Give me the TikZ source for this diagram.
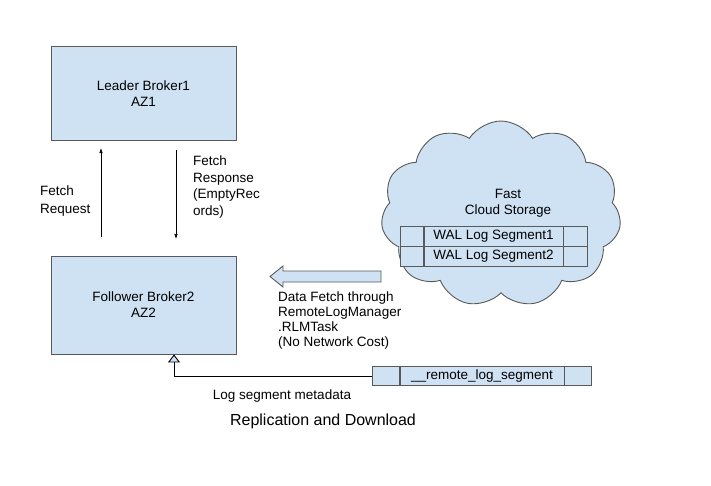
\documentclass[tikz,border=0pt]{standalone}
\usepackage{fontspec}
\setmainfont{Liberation Sans}
\usetikzlibrary{arrows.meta,shapes.symbols}
\definecolor{boxfill}{HTML}{CFE2F3}
\definecolor{boxdraw}{HTML}{595959}
\tikzset{
  box/.style={draw=boxdraw, fill=boxfill, line width=0.9pt, minimum width=185pt, minimum height=94pt, inner sep=0pt, align=center, font=\fontsize{13.5}{16}\selectfont},
  cell/.style={draw=boxdraw, fill=boxfill, line width=0.9pt, inner sep=0pt, align=center, font=\fontsize{13.5}{16}\selectfont},
  lbl/.style={inner sep=0pt, align=left, font=\fontsize{13.5}{16}\selectfont},
  thinarrow/.style={draw=black, line width=0.6pt, -{Latex[length=5pt,width=3.5pt]}},
}
\begin{document}
\begin{tikzpicture}[x=1pt,y=-1pt]
\useasboundingbox (0,0) rectangle (711,485);
% brokers
\node[box] (leader) at (143.5,93.5) {Leader Broker1\\AZ1};
\node[box, minimum height=98pt] (follower) at (143.5,305) {Follower Broker2\\AZ2};
% fetch arrows
\coordinate (reqS) at (101,237);
\coordinate (reqE) at (101,148);
\coordinate (resS) at (176,150);
\coordinate (resE) at (176,239);
\draw[thinarrow] (reqS) -- (reqE);
\draw[thinarrow] (resS) -- (resE);
\node[lbl, anchor=west, font=\fontsize{13.5}{18}\selectfont] (reqlbl) at (40,201) {Fetch\\Request};
\node[lbl, anchor=west, font=\fontsize{13.5}{16.5}\selectfont] (reslbl) at (193,187) {Fetch\\Response\\(EmptyRec\\ords)};
% cloud
\node[cloud, cloud puffs=11, cloud puff arc=115, aspect=1.35, draw=boxdraw, fill=boxfill, line width=0.9pt, minimum width=240pt, minimum height=186pt, inner sep=0pt] (cloud) at (501,214) {};
\node[lbl, align=center] (cloudlbl) at (508,203) {Fast\\Cloud Storage};
% WAL segments
\node[cell, minimum width=139pt, minimum height=20pt] (wal1) at (493.5,236.5) {WAL Log Segment1};
\node[cell, minimum width=23pt, minimum height=20pt, anchor=east] (wal1l) at (wal1.west) {};
\node[cell, minimum width=24pt, minimum height=20pt, anchor=west] (wal1r) at (wal1.east) {};
\node[cell, minimum width=139pt, minimum height=20pt] (wal2) at (493.5,256.5) {WAL Log Segment2};
\node[cell, minimum width=23pt, minimum height=20pt, anchor=east] (wal2l) at (wal2.west) {};
\node[cell, minimum width=24pt, minimum height=20pt, anchor=west] (wal2r) at (wal2.east) {};
% block arrow
\draw[draw=boxdraw, fill=boxfill, line width=0.9pt] (381,271) -- (283,271) -- (283,266) -- (270,276.5) -- (283,287) -- (283,282) -- (381,282) -- cycle;
\node[lbl, anchor=west, font=\fontsize{13.5}{15}\selectfont] (datalbl) at (278,320) {Data Fetch through\\RemoteLogManager\\.RLMTask\\(No Network Cost)};
% remote log segment
\node[cell, minimum width=164pt, minimum height=19pt] (rls) at (482,376) {\_\_remote\_log\_segment};
\node[cell, minimum width=27pt, minimum height=19pt, anchor=east] (rlsl) at (rls.west) {};
\node[cell, minimum width=27pt, minimum height=19pt, anchor=west] (rlsr) at (rls.east) {};
\draw[line width=0.9pt, -{Triangle[length=8pt,width=12pt,fill=boxfill]}] (rlsl.west) -| (follower.south -| 174,0);
\node[lbl] (metalbl) at (282,396) {Log segment metadata};
\node[inner sep=0pt, font=\fontsize{16}{19}\selectfont] (title) at (323,421) {Replication and Download};
\end{tikzpicture}
\end{document}
